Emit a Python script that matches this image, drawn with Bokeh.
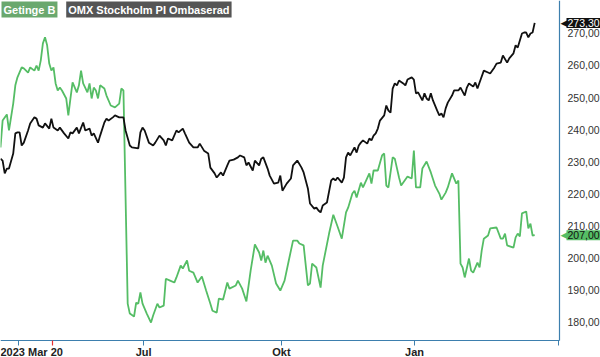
from bokeh.plotting import figure
from bokeh.models import Range1d, LinearAxis, FixedTicker, Label
from bokeh.embed import file_html
from bokeh.resources import INLINE

# ---- data (x = trading session number since 2023-03-20) ----
getinge_session = [0, 1, 3, 4, 6, 7, 8, 10, 11, 13, 14, 16, 17, 18, 19, 20, 21, 22, 23, 24, 25, 26, 27, 28, 29,
                   31, 32, 33, 34, 36, 37, 38, 39, 41, 42, 43, 44, 45, 46, 47, 49, 50, 52, 54, 56, 57, 58,
                   60, 61, 63, 64, 65, 66, 67, 69, 71, 72, 74, 75, 77, 78, 80, 82, 83, 85, 86, 88, 89, 91,
                   93, 95, 97, 99, 100, 102, 103, 105, 107, 108, 111, 112, 114, 116, 118, 120, 122, 123, 124,
                   125, 126, 128, 130, 132, 134, 136, 138, 140, 141, 143, 145, 146, 147, 149, 151, 152, 155,
                   157, 159, 161, 163, 164, 166, 167, 168, 170, 171, 174, 175, 176, 178, 180, 181, 182, 183,
                   185, 186, 188, 189, 192, 194, 195, 196, 198, 199, 201, 203, 205, 207, 208, 210, 211, 213,
                   215, 216, 217, 218, 219, 221, 222, 223, 225, 226, 227, 228, 230, 231, 234, 236, 237, 238,
                   239, 242, 243, 244, 245, 246, 248, 249, 250, 251, 252]
getinge_price = [234.4, 242.8, 244.7, 239.7, 248.1, 253.8, 256.3, 259.4, 259.1, 257.8, 259.4, 258.4, 260.0,
                 258.4, 261.6, 266.9, 268.8, 266.3, 260.6, 258.4, 259.4, 254.4, 252.2, 253.1, 252.2, 249.7,
                 244.4, 249.7, 254.7, 251.6, 253.8, 258.4, 254.4, 251.6, 254.4, 249.7, 253.1, 252.2, 249.7,
                 253.8, 252.8, 250.6, 247.5, 246.9, 248.1, 252.8, 252.2,
                 185.6, 182.5, 181.6, 185.9, 185.6, 189.1, 185.6, 182.5, 179.7, 181.9, 185.6, 184.4, 185.0,
                 193.4, 192.8, 192.2, 193.8, 197.5, 196.6, 199.1, 195.9, 195.3, 192.2, 194.1, 189.7, 185.6,
                 183.4, 182.8, 187.2, 186.9, 192.2, 190.3, 191.3, 192.8, 190.3, 186.3, 195.9, 204.1, 201.6,
                 199.1, 202.2, 198.4, 200.6, 197.5, 191.9, 189.7, 192.8, 199.1, 205.3, 205.3, 204.4, 203.8,
                 191.3, 191.9, 198.1, 196.9, 190.6, 197.5, 207.5, 213.4, 209.7, 205.9, 214.1, 215.6, 220.0,
                 220.9, 218.8, 223.4, 221.9, 226.3, 223.1, 227.2, 227.2, 231.9, 232.5, 222.5, 221.9, 231.3,
                 230.9, 225.0, 222.5, 225.3, 224.7, 233.4, 221.9, 221.9, 227.8, 230.0, 226.6, 222.5, 220.0,
                 218.1, 220.3, 221.9, 226.3, 223.1, 224.1, 198.1, 196.9, 193.8, 199.7, 195.9, 195.3, 198.4,
                 196.9, 202.2, 205.9, 206.9, 209.1, 209.4, 205.9, 205.9, 207.5, 203.8, 203.1, 206.3, 207.5,
                 206.6, 213.8, 214.4, 209.1, 210.6, 206.9, 207.0]

omx_session = [0, 1, 2, 3, 4, 6, 7, 8, 9, 10, 11, 13, 14, 16, 17, 18, 20, 21, 23, 24, 25, 27, 28, 30, 32, 33,
               34, 36, 37, 39, 40, 42, 43, 44, 46, 47, 49, 50, 51, 53, 54, 56, 58, 59, 61, 62, 65, 66, 67, 68,
               70, 72, 73, 75, 77, 78, 79, 81, 83, 84, 86, 87, 89, 91, 93, 94, 96, 98, 99, 101, 102, 104, 105,
               107, 108, 110, 112, 113, 115, 116, 117, 119, 120, 122, 123, 124, 126, 127, 129, 131, 132, 133,
               135, 137, 138, 140, 142, 143, 145, 146, 148, 149, 150, 151, 152, 154, 156, 157, 158, 159, 161,
               162, 163, 164, 165, 167, 168, 169, 170, 171, 173, 174, 175, 176, 177, 178, 179, 181, 182, 183,
               184, 185, 186, 187, 188, 190, 191, 192, 194, 195, 196, 197, 199, 200, 201, 202, 203, 204, 206,
               207, 208, 209, 210, 211, 213, 214, 216, 217, 219, 220, 221, 223, 224, 225, 226, 228, 230, 231,
               233, 234, 236, 237, 239, 240, 242, 243, 244, 246, 247, 248, 249, 250, 251, 252]
omx_rebased = [230.9, 230.3, 226.3, 227.8, 227.8, 232.5, 238.8, 239.1, 239.1, 235.0, 235.9, 239.7, 241.9,
               243.8, 243.4, 241.3, 240.6, 241.9, 240.3, 243.4, 240.6, 239.7, 240.6, 238.8, 237.2, 239.1,
               238.8, 240.6, 238.8, 242.2, 239.7, 240.3, 238.1, 238.8, 235.9, 238.1, 242.2, 243.4, 242.8,
               243.8, 244.4, 243.8, 243.8, 239.7, 235.0, 234.4, 234.1, 239.1, 240.6, 239.7, 235.9, 235.0,
               235.9, 238.1, 236.6, 235.0, 237.2, 236.6, 239.7, 239.1, 240.3, 238.8, 235.9, 234.4, 234.4,
               235.6, 233.4, 232.5, 228.1, 226.3, 225.0, 226.6, 225.6, 228.8, 230.3, 230.6, 231.3, 231.9,
               231.3, 228.8, 229.7, 227.2, 230.3, 228.8, 230.9, 231.3, 227.8, 225.6, 223.1, 223.4, 225.6,
               220.9, 223.1, 224.7, 228.8, 230.3, 228.1, 226.6, 221.6, 216.9, 215.3, 215.6, 214.7, 214.1,
               216.3, 217.2, 224.1, 224.7, 224.1, 225.0, 223.4, 225.0, 231.3, 232.8, 231.9, 234.4, 232.8,
               235.0, 235.9, 236.6, 235.6, 237.2, 236.6, 238.1, 238.8, 240.3, 242.8, 244.4, 247.5, 245.9,
               245.3, 252.8, 254.4, 253.8, 255.3, 254.4, 253.8, 255.6, 256.3, 255.6, 251.3, 251.6, 249.1,
               251.3, 249.7, 249.1, 251.3, 249.1, 245.9, 244.4, 245.0, 243.8, 246.6, 248.4, 250.6, 252.2,
               252.2, 253.1, 250.6, 253.1, 254.4, 253.4, 254.7, 252.8, 254.7, 258.4, 257.8, 257.5, 259.4,
               260.6, 260.9, 263.1, 260.9, 262.2, 263.8, 266.3, 265.6, 270.0, 270.3, 270.3, 268.8, 270.0,
               270.3, 273.3]

y_ticks = [180, 190, 200, 210, 220, 230, 240, 250, 260, 270]
x_tick_pos = [8.5, 67.5, 132.5, 195.3, 263.2]
x_tick_labels = ["", "Jul", "Okt", "Jan", ""]
start_label = "2023 Mar 20"
marker_pos = 24.5
series_names = ["Getinge B", "OMX Stockholm PI Ombaserad"]
last_getinge = getinge_price[-1]
last_omx = omx_rebased[-1]

# ---- layout ----
X0, X1 = 0, 263.7          # plotted time span
Y0, Y1 = 174.1, 280.3      # plotted value span
FIG_W, FIG_H = 600, 357
PLOT_W, PLOT_H = 559, 340  # pixels used by the plotting area; the rest holds the labels
ux = (X1 - X0) / PLOT_W    # data units per pixel
uy = (Y1 - Y0) / PLOT_H
x_end = X0 + ux * FIG_W
y_start = Y1 - uy * FIG_H

GREEN = "#55bd65"
AXIS = "#3d7fae"
FONT = "Liberation Sans"

p = figure(width=FIG_W, height=FIG_H, output_backend="svg", toolbar_location=None,
           x_range=Range1d(X0, x_end), y_range=Range1d(y_start, Y1),
           x_axis_location=None, y_axis_location=None,
           min_border_left=0, min_border_top=0, min_border_right=0, min_border_bottom=0)
p.grid.visible = False
p.outline_line_color = None
p.background_fill_color = "white"

p.line(getinge_session, getinge_price, line_color=GREEN, line_width=1.8)
p.line(omx_session, omx_rebased, line_color="#111111", line_width=1.8)


def bare(axis):
    axis.major_tick_in = 0
    axis.major_tick_out = 0
    axis.minor_tick_in = 0
    axis.minor_tick_out = 0
    axis.minor_tick_line_color = None
    axis.major_label_standoff = 0
    return axis


# right value axis: line, then labels a few pixels to its right
yline = bare(LinearAxis(ticker=FixedTicker(ticks=y_ticks), fixed_location=X1, bounds=(Y0, Y1),
                        major_label_overrides={t: "" for t in y_ticks}))
yline.axis_line_color = AXIS
yline.axis_line_width = 1.2
yline.major_tick_line_color = None
p.add_layout(yline, "right")

ylab = bare(LinearAxis(ticker=FixedTicker(ticks=y_ticks), fixed_location=X1 + 8 * ux,
                       major_label_overrides={t: f"{t},00" for t in y_ticks}))
ylab.axis_line_color = None
ylab.major_tick_line_color = None
ylab.major_label_text_font = FONT
ylab.major_label_text_font_size = "10.5px"
ylab.major_label_text_color = "#333333"
p.add_layout(ylab, "right")

# bottom time axis: line with downward ticks, then labels below
xline = bare(LinearAxis(ticker=FixedTicker(ticks=x_tick_pos), fixed_location=Y0, bounds=(X0, X1),
                        major_label_overrides={t: "" for t in x_tick_pos}))
xline.axis_line_color = AXIS
xline.axis_line_width = 1.2
xline.major_tick_line_color = AXIS
xline.major_tick_in = 5
p.add_layout(xline, "above")

mark = bare(LinearAxis(ticker=FixedTicker(ticks=[marker_pos]), fixed_location=Y0,
                       major_label_overrides={marker_pos: ""}))
mark.axis_line_color = None
mark.major_tick_line_color = "#e83030"
mark.major_tick_line_width = 1.2
mark.major_tick_in = 5
p.add_layout(mark, "above")

xlab = bare(LinearAxis(ticker=FixedTicker(ticks=x_tick_pos), fixed_location=Y0 - 5 * uy,
                       major_label_overrides=dict(zip(x_tick_pos, x_tick_labels))))
xlab.axis_line_color = None
xlab.major_tick_line_color = None
xlab.major_label_text_font = FONT
xlab.major_label_text_font_size = "11px"
xlab.major_label_text_font_style = "bold"
xlab.major_label_text_color = "#222222"
p.add_layout(xlab, "below")

p.add_layout(Label(x=X0, y=Y0, text=start_label, text_font=FONT, text_font_size="11px",
                   text_font_style="bold", text_color="#222222", text_baseline="top",
                   y_offset=-5))

# series name tags
p.add_layout(Label(x=X0, y=Y1, text=series_names[0], text_font=FONT, text_font_size="11px",
                   text_font_style="bold", text_color="white", text_baseline="top",
                   background_fill_color="#6aa86e", x_offset=1, y_offset=-1, padding=2))
p.add_layout(Label(x=31, y=Y1, text=series_names[1], text_font=FONT, text_font_size="11px",
                   text_font_style="bold", text_color="white", text_baseline="top",
                   background_fill_color="#555555", x_offset=0, y_offset=-1, padding=2))

# last-value tags
for val, bg, fg in [(last_omx, "#111111", "white"), (last_getinge, GREEN, "#111111")]:
    p.add_layout(Label(x=X1, y=val, text="\u25c0", text_font="DejaVu Sans",
                       text_font_size="9px", text_color=bg, text_baseline="middle", x_offset=1))
    p.add_layout(Label(x=X1, y=val, text=f"{val:.2f}".replace(".", ","), text_font=FONT,
                       text_font_size="10.5px", text_color=fg, text_baseline="middle",
                       background_fill_color=bg, x_offset=7, padding=1))

open("out.html", "w").write(file_html(p, INLINE))
